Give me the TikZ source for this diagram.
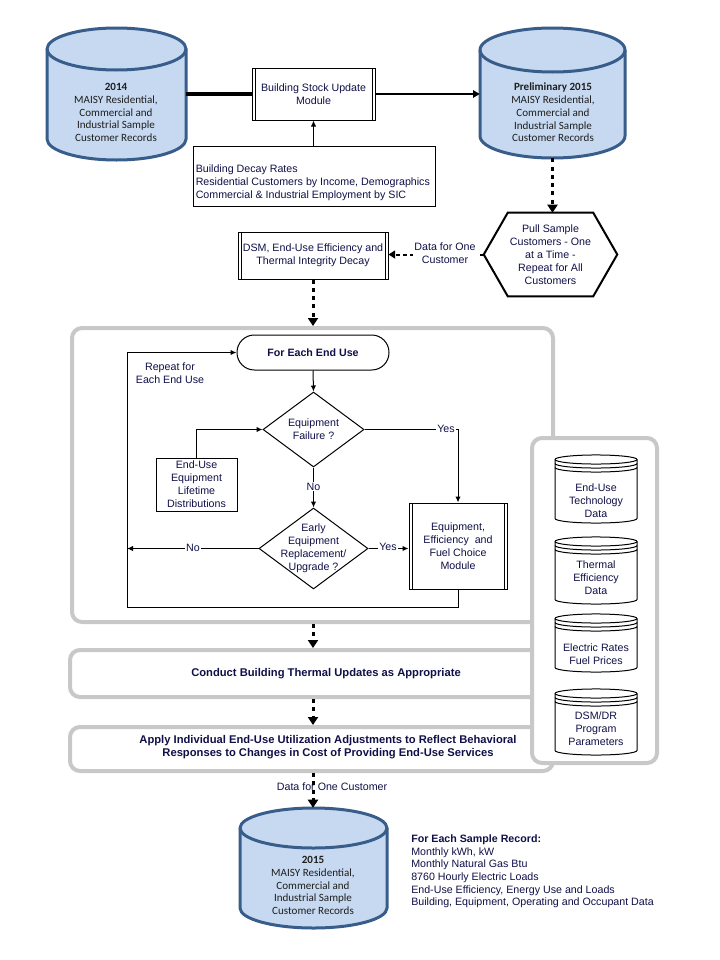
\documentclass[tikz,border=0pt]{standalone}
\usepackage{fontspec}
\setmainfont{Liberation Sans}
\newfontfamily\calfont{Carlito}
\usetikzlibrary{arrows.meta,shapes.geometric,fit,calc}
\definecolor{txt}{RGB}{16,16,72}
\definecolor{cyltxt}{RGB}{30,30,30}
\definecolor{cylfill}{RGB}{198,217,241}
\definecolor{cylline}{RGB}{56,93,138}
\definecolor{grp}{RGB}{200,200,200}
\newcommand\bigcyl[6]{%
  \path[fill=cylfill,draw=cylline,line width=2.25pt] (#1,#3) -- (#1,#4)
    arc[start angle=180,end angle=360,x radius=#5,y radius=#6] -- (#2,#3)
    arc[start angle=0,end angle=180,x radius=#5,y radius=#6] -- cycle;
  \draw[cylline,line width=2.25pt] (#1,#3) arc[start angle=180,end angle=360,x radius=#5,y radius=#6];
}
\newcommand\smallcyl[4]{%
  \path[fill=white,draw=black,line width=0.75pt] (#1,#3) -- (#1,#4)
    arc[start angle=180,end angle=360,x radius=30.75pt,y radius=3.4pt] -- (#2,#3)
    arc[start angle=0,end angle=180,x radius=30.75pt,y radius=3.4pt] -- cycle;
  \draw[line width=0.75pt] (#1,#3) arc[start angle=180,end angle=360,x radius=30.75pt,y radius=3.4pt];
  \draw[line width=0.75pt] ([yshift=-3pt]#1,#3) arc[start angle=180,end angle=360,x radius=30.75pt,y radius=3.4pt];
  \draw[line width=0.75pt] ([yshift=-6pt]#1,#3) arc[start angle=180,end angle=360,x radius=30.75pt,y radius=3.4pt];
}
\begin{document}
\begin{tikzpicture}[x=0.75pt,y=-0.75pt,
  every node/.style={text=txt,font=\fontsize{8}{9.75}\selectfont},
  plainbox/.style={draw,line width=0.75pt,fill=white,inner sep=0pt,align=center},
  procbox/.style={plainbox,path picture={\draw[line width=0.75pt]
      ([xshift=2.25pt]path picture bounding box.north west) -- ([xshift=2.25pt]path picture bounding box.south west)
      ([xshift=-2.25pt]path picture bounding box.north east) -- ([xshift=-2.25pt]path picture bounding box.south east);}},
  dia/.style={draw,diamond,line width=0.75pt,fill=white,inner sep=0pt},
  cyltext/.style={text=cyltxt,align=center,font=\calfont\fontsize{8.3}{9.6}\selectfont},
  grpbox/.style={draw=grp,line width=3pt,rounded corners=7.5pt,fill=white,inner sep=0pt},
  boldtxt/.style={align=center,font=\bfseries\fontsize{8.4}{9.75}\selectfont},
  thinarrow/.style={line width=0.75pt,-{Latex[length=4.5pt,width=4pt]}},
  dotarrow/.style={line width=2.25pt,dash pattern=on 3pt off 3.2pt,-{Triangle[length=6pt,width=7.5pt]}},
  dasharrow/.style={line width=1.5pt,dash pattern=on 3pt off 2.25pt,-{Triangle[length=5pt,width=6pt]}},
  lbl/.style={fill=white,inner sep=0.8pt,align=center}
]
\fill[white] (0,0) rectangle (720,960);
\useasboundingbox (0,0) rectangle (720,960);

% ---------- top cylinders ----------
\bigcyl{47}{186}{49}{139}{52.125pt}{15.75pt}
\node[fit={(47,28) (186,160)},inner sep=0pt] (rec2014) {};
\node[cyltext] (rec2014t) at (116,112.5) {\textbf{2014}\\MAISY Residential,\\Commercial and\\Industrial Sample\\Customer Records};

\bigcyl{480}{625}{50}{136}{54.375pt}{16.5pt}
\node[fit={(480,28) (625,158)},inner sep=0pt] (prelim) {};
\node[cyltext] (prelimt) at (553,112.5) {\textbf{Preliminary 2015}\\MAISY Residential,\\Commercial and\\Industrial Sample\\Customer Records};

% ---------- building stock ----------
\node[procbox,minimum width=92.25pt,minimum height=39pt] (bsu) at (313.5,94) {Building Stock Update\\Module};
\node[plainbox,minimum width=181.5pt,minimum height=45pt] (inputs) at (314,176) {};
\node[align=left,anchor=west,inner sep=0pt] (inputst) at (195.5,183) {Building Decay Rates\\Residential Customers by Income, Demographics\\Commercial \& Industrial Employment by SIC};

\draw[line width=3pt] (rec2014.east) -- (rec2014.east -| bsu.west);
\draw[line width=1.9pt,-{Triangle[length=5pt,width=5.5pt]}] (bsu.east) -- (bsu.east -| prelim.west);
\draw[thinarrow] (bsu.south |- inputs.north) -- (bsu.south);

% ---------- hexagon ----------
\node[minimum width=99.75pt,minimum height=62.25pt,inner sep=0pt,align=center] (hex) at (550.5,254.5) {};
\draw[line width=1.5pt,fill=white] (hex.west) -- ([xshift=18pt]hex.north west) -- ([xshift=-18pt]hex.north east)
   -- (hex.east) -- ([xshift=-18pt]hex.south east) -- ([xshift=18pt]hex.south west) -- cycle;
\node[align=center] (hext) at (hex.center) {Pull Sample\\Customers - One\\at a Time -\\Repeat for All\\Customers};
\draw[dotarrow] (prelim.south) -- (prelim.south |- hex.north);

% ---------- DSM box ----------
\node[procbox,minimum width=112.5pt,minimum height=35.25pt] (dsm) at (313,255.5) {DSM, End-Use Efficiency and\\Thermal Integrity Decay};
\draw[dasharrow] (hex.west) -- (hex.west -| dsm.east);
\node[lbl] (dataone) at (445,253.5) {Data for One\\Customer};

% ---------- containers ----------
\node[grpbox,fit={(72,328) (553,622)}] (g1) {};
\node[grpbox,fit={(70,650) (553,697)}] (g2) {};
\node[grpbox,fit={(70,727) (553,771)}] (g3) {};
\node[grpbox,fit={(532,438) (657,763)}] (panel) {};

\node[boldtxt] (g2t) at (326,674) {Conduct Building Thermal Updates as Appropriate};
\node[boldtxt] (g3t) at (328,747) {Apply Individual End-Use Utilization Adjustments to Reflect Behavioral\\Responses to Changes in Cost of Providing End-Use Services};

\draw[dotarrow] (dsm.south) -- (dsm.south |- g1.north);
\draw[dotarrow] (dsm.south |- g1.south) -- (dsm.south |- g2.north);
\draw[dotarrow] (dsm.south |- g2.south) -- (dsm.south |- g3.north);

% ---------- inner flowchart ----------
\node[draw,line width=0.75pt,fill=white,rounded corners=13pt,minimum width=114pt,minimum height=26.25pt,inner sep=0pt,font=\bfseries\fontsize{8}{9.75}\selectfont] (term) at (313,352.5) {For Each End Use};
\node[align=center] (repeat) at (170,373.5) {Repeat for\\Each End Use};
\node[dia,minimum width=75.75pt,minimum height=56.25pt,label={[align=center,text=txt]center:Equipment\\Failure ?}] (d1) at (313.5,429.5) {};
\node[dia,minimum width=81.75pt,minimum height=60.75pt,label={[align=center,text=txt]center:Early\\Equipment\\Replacement/\\Upgrade ?}] (d2) at (313.5,548.5) {};
\node[plainbox,minimum width=60.75pt,minimum height=39.75pt] (life) at (196.5,484.5) {End-Use\\Equipment\\Lifetime\\Distributions};
\node[procbox,minimum width=73.5pt,minimum height=64.5pt] (eqmod) at (458,546) {Equipment,\\Efficiency\ \ and\\Fuel Choice\\Module};
\coordinate (lpA) at (127,607);

\draw[thinarrow] (term.south) -- (d1.north);
\draw[thinarrow] (d1.south) -- (d2.north);
\node[lbl] (no1) at (313.5,486.5) {No};
\draw[thinarrow] (life.north) |- (d1.west);
\draw[thinarrow] (d1.east) -| (eqmod.north);
\node[lbl] (yes1) at (446,429) {Yes};
\draw[thinarrow] (d2.east) -- (d2.east -| eqmod.west);
\node[lbl] (yes2) at (388,546.5) {Yes};
\draw[thinarrow] (d2.west) -- (d2.west -| lpA);
\node[lbl] (no2) at (193,548) {No};
\draw[thinarrow] (eqmod.south) |- (lpA) |- (term.west);

% ---------- right panel ----------
\smallcyl{555}{637}{459.5}{518.5}
\smallcyl{555}{637}{541.5}{599.5}
\smallcyl{555}{637}{618.5}{667.5}
\smallcyl{555}{637}{693.5}{750.5}
\node[align=center] (tech) at (596,500.5) {End-Use\\Technology\\Data};
\node[align=center] (therm) at (596,578) {Thermal\\Efficiency\\Data};
\node[align=center] (rates) at (596,654.5) {Electric Rates\\Fuel Prices};
\node[align=center] (dsmdr) at (596,729) {DSM/DR\\Program\\Parameters};

% ---------- bottom ----------
\bigcyl{240}{387}{828}{908}{55.125pt}{15pt}
\node[fit={(240,808) (387,928)},inner sep=0pt] (rec2015) {};
\node[cyltext] (rec2015t) at (313,885.5) {\textbf{2015}\\MAISY Residential,\\Commercial and\\Industrial Sample\\Customer Records};
\node (dataone2) at (332,787) {Data for One Customer};
\draw[dotarrow] (dsm.south |- g3.south) -- (dsm.south |- rec2015.north);

\node[align=left,anchor=west,inner sep=0pt,font=\fontsize{8}{9.5}\selectfont] (sample) at (411,871.5) {\textbf{For Each Sample Record:}\\Monthly kWh, kW\\Monthly Natural Gas Btu\\8760 Hourly Electric Loads\\End-Use Efficiency, Energy Use and Loads\\Building, Equipment, Operating and Occupant Data};
\end{tikzpicture}
\end{document}
